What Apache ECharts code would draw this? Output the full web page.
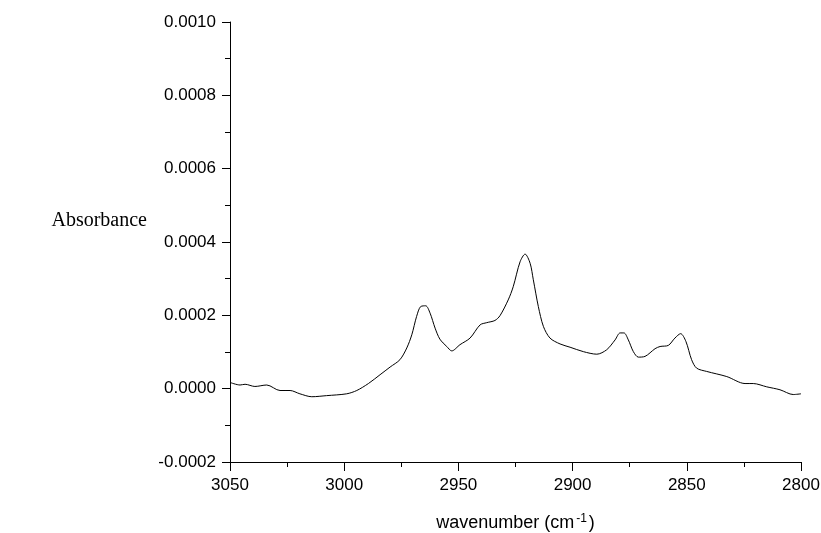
<!DOCTYPE html>
<html>
<head>
<meta charset="utf-8">
<title>Absorbance spectrum</title>
<script src="https://cdn.jsdelivr.net/npm/echarts@6/dist/echarts.min.js"></script>
<style>
  html, body { margin: 0; padding: 0; background: #fff; }
  #chart { width: 821px; height: 533px; }
</style>
</head>
<body>
<div id="chart"></div>
<script>
// wavenumbers (cm-1)
var wavenumber = [
  3050.0, 3045.6, 3043.4, 3039.1, 3033.9, 3028.1, 3023.7, 3019.4, 3014.2, 3007.7,
  2998.9, 2994.5, 2989.4, 2984.3, 2979.9, 2975.6, 2972.6, 2970.4, 2968.3, 2966.5,
  2964.3, 2962.4, 2960.2, 2958.1, 2955.1, 2952.9, 2949.3, 2944.9, 2940.5, 2937.6,
  2934.0, 2931.8, 2928.2, 2926.0, 2923.0, 2920.8, 2918.6, 2917.2, 2915.0, 2912.8,
  2909.9, 2905.5, 2901.1, 2895.3, 2889.4, 2885.1, 2881.4, 2879.2, 2877.5, 2875.6,
  2873.4, 2871.2, 2868.3, 2863.9, 2861.7, 2858.1, 2855.2, 2852.7, 2850.4, 2847.9,
  2845.7, 2841.3, 2832.5, 2824.5, 2820.9, 2815.0, 2809.2, 2803.4, 2800.0
];
// absorbance at those wavenumbers
var absorbance = [
  0.000017, 0.000010, 0.000012, 0.000006, 0.000010, -0.000005, -0.000005, -0.000014, -0.000022, -0.000019,
  -0.000014, -0.000005, 0.000014, 0.000038, 0.000059, 0.000079, 0.000111, 0.000147, 0.000197, 0.000224,
  0.000226, 0.000206, 0.000165, 0.000135, 0.000115, 0.000103, 0.000120, 0.000138, 0.000174, 0.000180,
  0.000186, 0.000199, 0.000242, 0.000278, 0.000346, 0.000367, 0.000342, 0.000297, 0.000224, 0.000170,
  0.000138, 0.000122, 0.000113, 0.000101, 0.000094, 0.000106, 0.000133, 0.000152, 0.000152, 0.000133,
  0.000101, 0.000086, 0.000088, 0.000109, 0.000115, 0.000118, 0.000138, 0.000150, 0.000129, 0.000079,
  0.000056, 0.000047, 0.000033, 0.000014, 0.000014, 0.000005, -0.000003, -0.000016, -0.000014
];

var points = [];
for (var i = 0; i < wavenumber.length; i++) {
  points.push([wavenumber[i], absorbance[i]]);
}

var chart = echarts.init(document.getElementById('chart'));
var option = {
  backgroundColor: '#ffffff',
  animation: false,
  grid: {
    left: 230,
    right: 20,
    top: 22,
    bottom: 71,
    outerBoundsMode: 'none'
  },
  // y title sits a bit above the middle of the axis, so it is placed by hand
  graphic: [{
    type: 'text',
    x: 147,
    y: 221,
    style: {
      text: 'Absorbance',
      fontFamily: 'Liberation Serif',
      fontSize: 20,
      fill: '#000',
      align: 'right',
      verticalAlign: 'middle'
    }
  }],
  xAxis: {
    type: 'value',
    inverse: true,
    min: 2800,
    max: 3050,
    interval: 50,
    name: 'wavenumber (cm{sup|-1})',
    nameLocation: 'middle',
    nameGap: 51,
    nameTextStyle: {
      fontFamily: 'Liberation Sans',
      fontSize: 18,
      color: '#000',
      rich: {
        sup: { fontFamily: 'Liberation Sans', fontSize: 12, color: '#000', verticalAlign: 'top', padding: [0, 2, 9, 2] }
      }
    },
    axisLine: { show: true, onZero: false, lineStyle: { color: '#000', width: 1 } },
    axisTick: { show: true, length: 9, lineStyle: { color: '#000' } },
    minorTick: { show: true, splitNumber: 2, length: 5, lineStyle: { color: '#000' } },
    axisLabel: {
      margin: 15,
      fontFamily: 'Liberation Sans',
      fontSize: 17,
      color: '#000',
      formatter: function (v) { return String(v); }
    },
    splitLine: { show: false }
  },
  yAxis: {
    type: 'value',
    min: -0.0002,
    max: 0.0010,
    interval: 0.0002,
    axisLine: { show: true, onZero: false, lineStyle: { color: '#000', width: 1 } },
    axisTick: { show: true, length: 8, lineStyle: { color: '#000' } },
    minorTick: { show: true, splitNumber: 2, length: 5, lineStyle: { color: '#000' } },
    axisLabel: {
      margin: 14,
      fontFamily: 'Liberation Sans',
      fontSize: 17,
      color: '#000',
      formatter: function (v) { return v.toFixed(4); }
    },
    splitLine: { show: false }
  },
  series: [{
    type: 'line',
    data: points,
    smooth: 0.3,
    symbol: 'none',
    lineStyle: { color: '#000', width: 1 }
  }]
};
chart.setOption(option);
</script>
</body>
</html>
